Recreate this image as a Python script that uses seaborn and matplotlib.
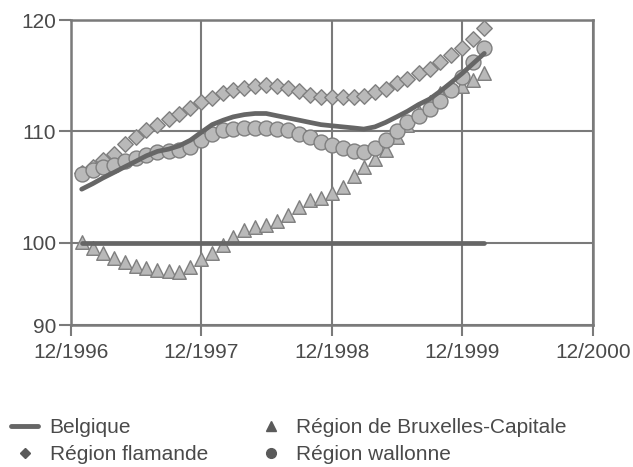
import numpy as np
import pandas as pd
import matplotlib
matplotlib.use("Agg")
import matplotlib.pyplot as plt
from matplotlib.lines import Line2D
import seaborn as sns

# ---- data (monthly index, Jan 1997 .. Feb 2000) ----
start_month = "1997-01-01"
n_months = 38
belgique = [104.8, 105.3, 105.8, 106.3, 106.8, 107.3, 107.8, 108.2, 108.4, 108.7,
            109.2, 109.9, 110.6, 111.0, 111.3, 111.5, 111.6, 111.6, 111.4, 111.2,
            111.0, 110.8, 110.6, 110.5, 110.4, 110.3, 110.2, 110.4, 110.8, 111.3,
            111.8, 112.4, 112.9, 113.6, 114.4, 115.2, 116.1, 117.0]
flamande = [106.3, 106.8, 107.4, 108.0, 108.9, 109.5, 110.1, 110.6, 111.1, 111.6,
            112.1, 112.6, 113.0, 113.4, 113.7, 113.9, 114.1, 114.2, 114.1, 113.9,
            113.6, 113.3, 113.1, 113.1, 113.1, 113.1, 113.2, 113.5, 113.8, 114.3,
            114.7, 115.2, 115.6, 116.2, 116.9, 117.5, 118.3, 119.3]
bruxelles = [100.1, 99.4, 98.7, 98.1, 97.6, 97.2, 96.9, 96.7, 96.5, 96.4,
             97.0, 98.0, 98.8, 99.7, 100.5, 101.1, 101.4, 101.6, 101.9, 102.5,
             103.2, 103.8, 104.0, 104.5, 105.0, 106.0, 106.8, 107.5, 108.3, 109.5,
             110.6, 111.7, 112.6, 113.4, 114.0, 114.1, 114.6, 115.2]
wallonne = [106.2, 106.5, 106.8, 107.0, 107.3, 107.6, 107.9, 108.1, 108.2, 108.3,
            108.6, 109.2, 109.8, 110.1, 110.2, 110.3, 110.3, 110.3, 110.2, 110.1,
            109.8, 109.5, 109.0, 108.8, 108.5, 108.2, 108.1, 108.5, 109.2, 110.0,
            110.8, 111.4, 112.0, 112.7, 113.7, 114.9, 116.2, 117.5]
base_level = 100
x_tick_dates = ["1996-12-01", "1997-12-01", "1998-12-01", "1999-12-01", "2000-12-01"]
x_tick_labels = ["12/1996", "12/1997", "12/1998", "12/1999", "12/2000"]
y_ticks = [90, 100, 110, 120]
y_tick_labels = ["90", "100", "110", "120"]
legend_labels = ["Belgique", "Région flamande", "Région de Bruxelles-Capitale", "Région wallonne"]

months = pd.date_range(start_month, periods=n_months, freq="MS")
df = pd.DataFrame({"date": months, "Belgique": belgique, "Flamande": flamande,
                   "Bruxelles": bruxelles, "Wallonne": wallonne,
                   "base": [base_level] * n_months})

sns.set_theme(style="white")
plt.rcParams["font.family"] = ["Liberation Sans", "DejaVu Sans"]

GRID = "#7a7a7a"
TEXT = "#4a4a4a"
LINE = "#666666"
FILL = "#b9b9b9"
EDGE = "#7f7f7f"

fig = plt.figure(figsize=(6.33, 4.67), dpi=100)
ax = fig.add_axes([70.6 / 633, 1 - 325 / 467, (593 - 70.6) / 633, (325 - 20) / 467])

# piecewise y scale as in the original (90-100 segment compressed)
k = 0.74
def fwd(y):
    y = np.asarray(y, dtype=float)
    return np.where(y >= 100, y, 100 - (100 - y) * k)
def inv(z):
    z = np.asarray(z, dtype=float)
    return np.where(z >= 100, z, 100 - (100 - z) / k)
ax.set_yscale("function", functions=(fwd, inv))

sns.scatterplot(data=df, x="date", y="Bruxelles", marker="^", s=95, color=FILL,
                edgecolor=EDGE, linewidth=1.0, ax=ax, zorder=3, legend=False)
sns.scatterplot(data=df, x="date", y="Flamande", marker="D", s=62, color=FILL,
                edgecolor=EDGE, linewidth=1.0, ax=ax, zorder=3, legend=False)
sns.scatterplot(data=df, x="date", y="Wallonne", marker="o", s=115, color=FILL,
                edgecolor=EDGE, linewidth=1.0, ax=ax, zorder=3, legend=False)
sns.lineplot(data=df, x="date", y="base", color=LINE, linewidth=3.4, ax=ax, zorder=4,
             legend=False)
sns.lineplot(data=df, x="date", y="Belgique", color=LINE, linewidth=3.4, ax=ax, zorder=4,
             legend=False)

xt = pd.to_datetime(x_tick_dates)
ax.set_xlim(xt[0], xt[-1])
ax.set_ylim(90, 120)
ax.set_xticks(xt)
ax.set_xticklabels(x_tick_labels)
ax.set_yticks(y_ticks)
ax.set_yticklabels(y_tick_labels)
ax.set_xlabel("")
ax.set_ylabel("")

ax.grid(True, color=GRID, linewidth=1.5)
ax.set_axisbelow(True)
for sp in ax.spines.values():
    sp.set_color(GRID)
    sp.set_linewidth(1.8)
ax.tick_params(axis="both", colors=GRID, width=1.5, labelcolor=TEXT, labelsize=15)
ax.tick_params(axis="y", direction="out", length=9, pad=1.5, left=True)
ax.tick_params(axis="x", direction="out", length=8, pad=5, bottom=True)

handles = [
    Line2D([], [], color=LINE, linewidth=3.5),
    Line2D([], [], linestyle="none", marker="D", markersize=5.5, color="#5a5a5a"),
    Line2D([], [], linestyle="none", marker="^", markersize=6.5, color="#5a5a5a"),
    Line2D([], [], linestyle="none", marker="o", markersize=7, color="#5a5a5a"),
]
fig.legend(handles, legend_labels, ncol=2, loc="upper left",
           bbox_to_anchor=(11 / 633, 1 - 418 / 467), frameon=False, fontsize=15,
           handlelength=1.3, handletextpad=0.55, columnspacing=2.4,
           labelspacing=0.4, borderpad=0, borderaxespad=0, labelcolor=TEXT)

fig.savefig("out.png", dpi=100)
